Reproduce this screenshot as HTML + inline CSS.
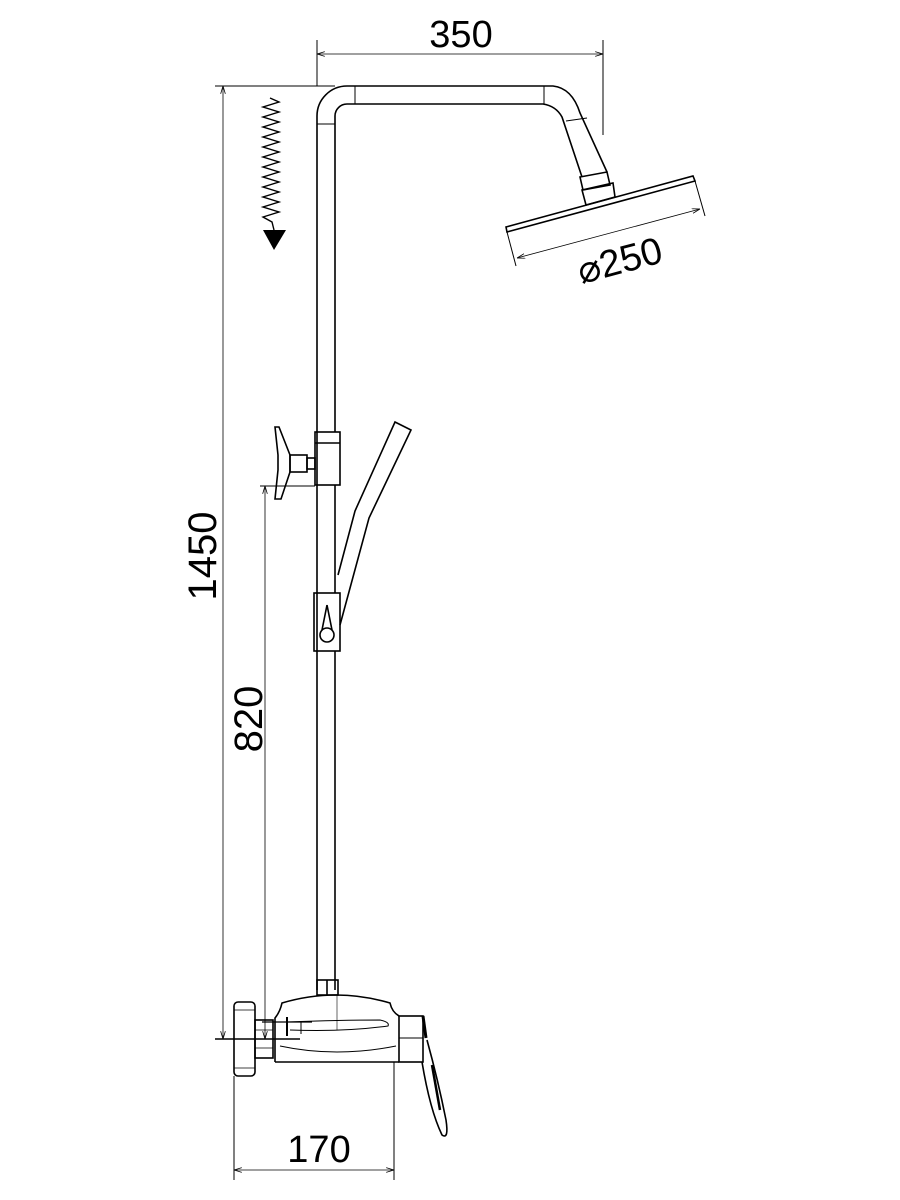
<!DOCTYPE html>
<html><head><style>html,body{margin:0;padding:0;background:#fff}svg{display:block}</style></head><body>
<svg width="900" height="1200" viewBox="0 0 900 1200" xmlns="http://www.w3.org/2000/svg" font-family="Liberation Sans, sans-serif">
<defs>
<marker id="a" viewBox="0 0 10 6" refX="10" refY="3" markerWidth="8" markerHeight="5" orient="auto-start-reverse" markerUnits="userSpaceOnUse"><path d="M0,0 L10,3 L0,6" fill="none" stroke="#000" stroke-width="1"/></marker>
</defs>
<g fill="none" stroke="#000" stroke-width="1.6">
<path d="M317,990 L317,116 A30,30 0 0 1 347,86 L553,86 Q572,88 580,113 L607,172"/>
<path d="M335,432 L335,116 A12,12 0 0 1 347,104 L543,104 Q556,106 562,117 L582,177"/>
<line x1="335" y1="485" x2="335" y2="593"/>
<line x1="335" y1="651" x2="335" y2="990"/>
<line x1="317" y1="124" x2="335" y2="124" stroke-width="1"/>
<line x1="355" y1="86" x2="355" y2="104" stroke-width="1"/>
<line x1="544" y1="86" x2="544" y2="104" stroke-width="1"/>
<line x1="566" y1="121" x2="587" y2="118" stroke-width="1"/>
<polygon points="580,177 607,172 610,185 583,190"/>
<polygon points="582,190 613,183 615,197 586,205"/>
<polygon points="506,227 693,176 695,181 507,232"/>
<line x1="507" y1="232" x2="516" y2="266" stroke-width="1"/>
<line x1="695" y1="181" x2="705" y2="216" stroke-width="1"/>
<line x1="517" y1="258" x2="700" y2="209" stroke-width="0.8" marker-start="url(#a)" marker-end="url(#a)"/>
<line x1="317" y1="40" x2="317" y2="86" stroke-width="1"/>
<line x1="603" y1="40" x2="603" y2="135" stroke-width="1"/>
<line x1="317" y1="54" x2="603" y2="54" stroke-width="0.8" marker-start="url(#a)" marker-end="url(#a)"/>
<line x1="215" y1="86" x2="335" y2="86" stroke-width="1"/>
<line x1="223" y1="86" x2="223" y2="1039" stroke-width="0.8" marker-start="url(#a)" marker-end="url(#a)"/>
<polyline stroke-width="1.4" points="270,98 279,102 263,107 279,112 263,117 279,122 263,127 279,132 263,137 279,142 263,147 279,152 263,157 279,162 263,167 279,172 263,177 279,182 263,187 279,192 263,197 279,202 263,207 279,212 263,217 272,222 274,230"/>
<rect x="315" y="432" width="25" height="53"/>
<line x1="315" y1="443" x2="340" y2="443"/>
<polygon points="275,427 279,427 290,455 290,472 281,499 275,499 278,470 278,455"/>
<rect x="290" y="455" width="17" height="17"/>
<rect x="307" y="458" width="8" height="11"/>
<line x1="260" y1="486" x2="315" y2="486" stroke-width="1"/>
<line x1="265" y1="486" x2="265" y2="1039" stroke-width="0.8" marker-start="url(#a)" marker-end="url(#a)"/>
<path d="M338,575 L355,511 L395,422 L411,430 L369,518 L340,625"/>
<rect x="314" y="593" width="26" height="58"/>
<path d="M327,605 L322,630 M327,605 L332,630"/>
<circle cx="327" cy="635" r="7"/>
<rect x="317" y="980" width="21" height="15"/>
<line x1="327" y1="980" x2="327" y2="995"/>
<line x1="337" y1="995" x2="337" y2="1030" stroke-width="0.6"/>
<rect x="234" y="1002" width="21" height="74" rx="4"/>
<line x1="234" y1="1010" x2="255" y2="1010" stroke-width="0.7"/>
<line x1="234" y1="1068" x2="255" y2="1068" stroke-width="0.7"/>
<rect x="255" y="1020" width="18" height="38"/>
<line x1="255" y1="1030" x2="273" y2="1030" stroke-width="0.7"/>
<line x1="255" y1="1048" x2="273" y2="1048" stroke-width="0.7"/>
<path d="M275,1062 L275,1018 Q280,1012 282,1003 Q336,987 390,1003 Q392,1012 399,1016"/>
<line x1="275" y1="1062" x2="399" y2="1062"/>
<path d="M280,1046 Q336,1058 396,1046" stroke-width="1"/>
<path d="M288,1022 Q340,1020 380,1020 Q390,1022 388,1026 Q345,1032 290,1030" stroke-width="1"/>
<line x1="262" y1="1022" x2="312" y2="1022" stroke-width="1.3"/>
<line x1="287" y1="1017" x2="287" y2="1036" stroke-width="2"/>
<line x1="301" y1="1022" x2="301" y2="1034" stroke-width="1"/>
<line x1="215" y1="1039" x2="300" y2="1039" stroke-width="1.4"/>
<rect x="399" y="1016" width="24" height="46"/>
<line x1="399" y1="1038" x2="423" y2="1038" stroke-width="1"/>
<line x1="423" y1="1016" x2="426" y2="1038" stroke-width="3"/>
<path d="M422,1062 Q430,1110 442,1135 Q449,1140 446,1120 Q438,1080 427,1040"/>
<path d="M432,1065 L440,1110" stroke-width="2.5"/>
<line x1="234" y1="1076" x2="234" y2="1180" stroke-width="1"/>
<line x1="394" y1="1062" x2="394" y2="1180" stroke-width="1"/>
<line x1="234" y1="1170" x2="394" y2="1170" stroke-width="0.8" marker-start="url(#a)" marker-end="url(#a)"/>
</g>
<polygon points="263,230 286,230 274,250" fill="#000"/>
<text x="461" y="47" font-size="38" text-anchor="middle">350</text>
<text x="319" y="1162" font-size="38" text-anchor="middle">170</text>
<text transform="translate(216,556) rotate(-90)" font-size="40" text-anchor="middle">1450</text>
<text transform="translate(262,719) rotate(-90)" font-size="40" text-anchor="middle">820</text>
<text transform="translate(623,273) rotate(-15)" font-size="38" text-anchor="middle">⌀250</text>
</svg>
</body></html>
